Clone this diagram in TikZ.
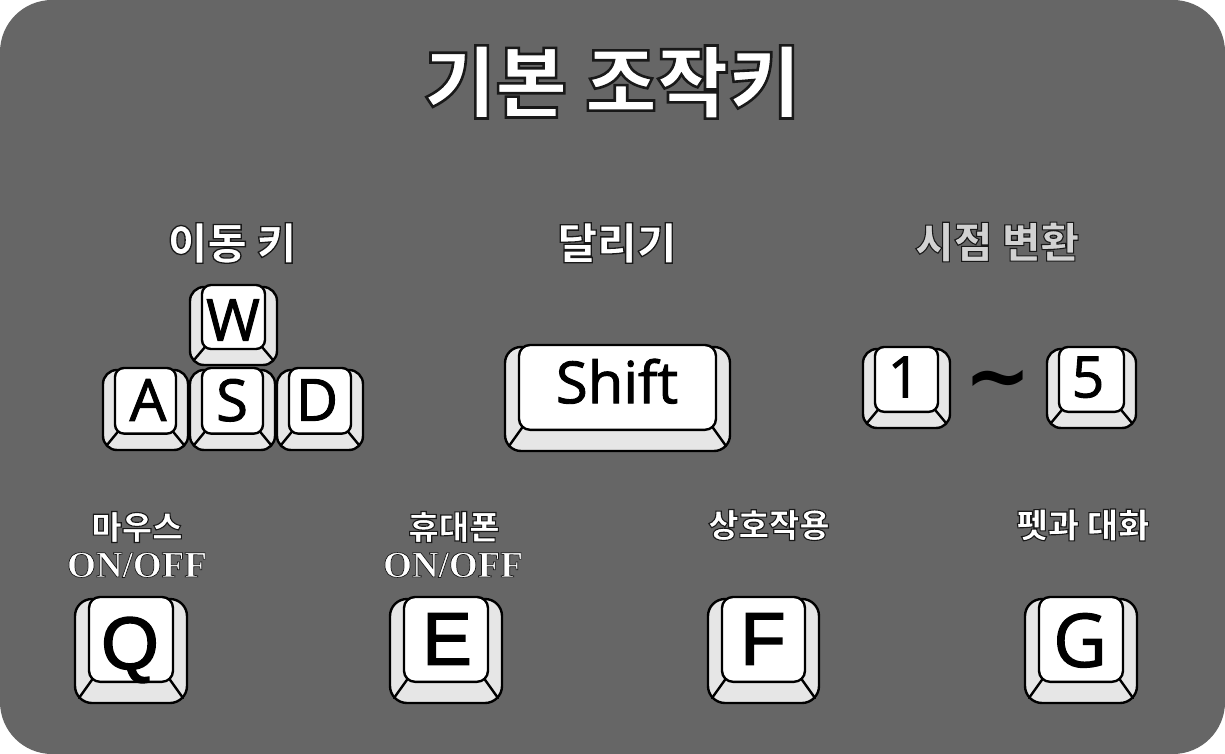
\documentclass[tikz,border=0pt]{standalone}
\usepackage{fontspec}
\setmainfont{Noto Sans CJK KR}
\newfontfamily\kr{Noto Sans CJK KR}
\newfontfamily\osans[FakeBold=1.6]{Open Sans}
\newfontfamily\asans[FakeBold=2.2]{Liberation Sans}
\newfontfamily\lserif{Liberation Serif}
\newfontfamily\dvsans{DejaVu Sans}
\definecolor{bgray}{HTML}{666666}
\definecolor{kside}{HTML}{E6E6E6}
\definecolor{dimtext}{HTML}{D2D2D2}
\tikzset{
  keyline/.style={draw=black,line width=2.4pt,line join=round,line cap=round},
  keyside/.style={fill=kside},
  lbl/.style={inner sep=0pt,anchor=center},
  keylbl/.style={inner sep=0pt,anchor=center,text=black,text depth=0pt},
}
% outlined text: #1 stroke width (bp), #2 text
\newcommand\outl[2]{\special{pdf:literal direct 2 Tr #1 w 0.1 G}#2\special{pdf:literal direct 0 Tr 0.4 w}}
% #1 x1, #2 y1, #3 x2, #4 y2, #5 side inset, #6 outer radius, #7 inner radius
\newcommand\keycap[7]{%
  \pgfmathsetmacro\kib{0.2*(#4-#2)}%
  \fill[keyside,rounded corners=#6pt] (#1,{#2+2}) rectangle (#3,#4);
  \draw[keyline] ({#1+#5+3},{#4-\kib-2}) -- ({#1+4},{#4-5});
  \draw[keyline] ({#3-#5-3},{#4-\kib-2}) -- ({#3-4},{#4-5});
  \draw[keyline,rounded corners=#6pt] (#1,{#2+2}) rectangle (#3,#4);
  \draw[keyline,fill=white,rounded corners=#7pt] ({#1+#5},#2) rectangle ({#3-#5},{#4-\kib});
}
\begin{document}
\begin{tikzpicture}[x=1pt,y=-1pt]
\useasboundingbox (0,0) rectangle (1225,754);
\fill[white] (0,0) rectangle (1225,754);
\fill[bgray,rounded corners=52pt] (0,0) rectangle (1225,754);

% title
\node[lbl,text=white] (title) at (612,82) {\fontsize{78}{78}\selectfont\bfseries\outl{2.6}{기본 조작키}};

% section labels
\node[lbl,text=white] (move) at (232,243) {\fontsize{43}{43}\selectfont\bfseries\outl{1.3}{이동 키}};
\node[lbl,text=white] (run) at (617,243) {\fontsize{43}{43}\selectfont\bfseries\outl{1.3}{달리기}};
\node[lbl,text=dimtext] (view) at (997,242) {\fontsize{42}{42}\selectfont\bfseries\outl{1.1}{시점 변환}};

% WASD
\keycap{190}{285}{277}{365}{12}{14}{9}
\node[keylbl] (kW) at (233,320) {\osans\fontsize{58}{58}\selectfont W};
\keycap{103}{368}{188}{450}{12}{14}{9}
\node[keylbl] (kA) at (148,400) {\osans\fontsize{58}{58}\selectfont A};
\keycap{190}{368}{275}{450}{12}{14}{9}
\node[keylbl] (kS) at (232,400) {\osans\fontsize{58}{58}\selectfont S};
\keycap{277}{368}{363}{450}{12}{14}{9}
\node[keylbl] (kD) at (317,400) {\osans\fontsize{58}{58}\selectfont D};

% Shift
\keycap{505}{345}{730}{451}{14}{16}{11}
\node[keylbl] (kShift) at (617,381) {\osans\fontsize{58}{58}\selectfont Shift};

% 1 ~ 5
\keycap{863}{347}{950}{428}{12}{14}{9}
\node[keylbl] (k1) at (904,377) {\osans\fontsize{57}{57}\selectfont 1};
\node[lbl,text=black] (tilde) at (998,387) {\dvsans\bfseries\fontsize{80}{80}\selectfont \textasciitilde};
\keycap{1047}{347}{1136}{428}{12}{14}{9}
\node[keylbl] (k5) at (1088,377) {\osans\fontsize{57}{57}\selectfont 5};

% bottom labels
\node[lbl,text=white] (mouse) at (137,527) {\fontsize{33}{33}\selectfont\bfseries\outl{1.1}{마우스}};
\node[lbl,text=white] (mouseon) at (137,565) {\lserif\bfseries\fontsize{37}{37}\selectfont\outl{0.7}{ON/OFF}};
\node[lbl,text=white] (phone) at (454,527) {\fontsize{33}{33}\selectfont\bfseries\outl{1.1}{휴대폰}};
\node[lbl,text=white] (phoneon) at (453,565) {\lserif\bfseries\fontsize{37}{37}\selectfont\outl{0.7}{ON/OFF}};
\node[lbl,text=white] (inter) at (769,525) {\fontsize{33}{33}\selectfont\bfseries\outl{1.1}{상호작용}};
\node[lbl,text=white] (pet) at (1083,525) {\fontsize{34}{34}\selectfont\bfseries\outl{1.1}{펫과 대화}};

% Q E F G
\keycap{75}{597}{187}{703}{14}{17}{11}
\node[keylbl] (kQ) at (130,643) {\asans\fontsize{74}{74}\selectfont Q};
\keycap{390}{597}{502}{703}{14}{17}{11}
\node[keylbl] (kE) at (447,639) {\asans\fontsize{74}{74}\selectfont E};
\keycap{708}{597}{819}{703}{14}{17}{11}
\node[keylbl] (kF) at (763,639) {\asans\fontsize{74}{74}\selectfont F};
\keycap{1025}{597}{1137}{703}{14}{17}{11}
\node[keylbl] (kG) at (1080,640) {\osans\fontsize{74}{74}\selectfont G};
\end{tikzpicture}
\end{document}
